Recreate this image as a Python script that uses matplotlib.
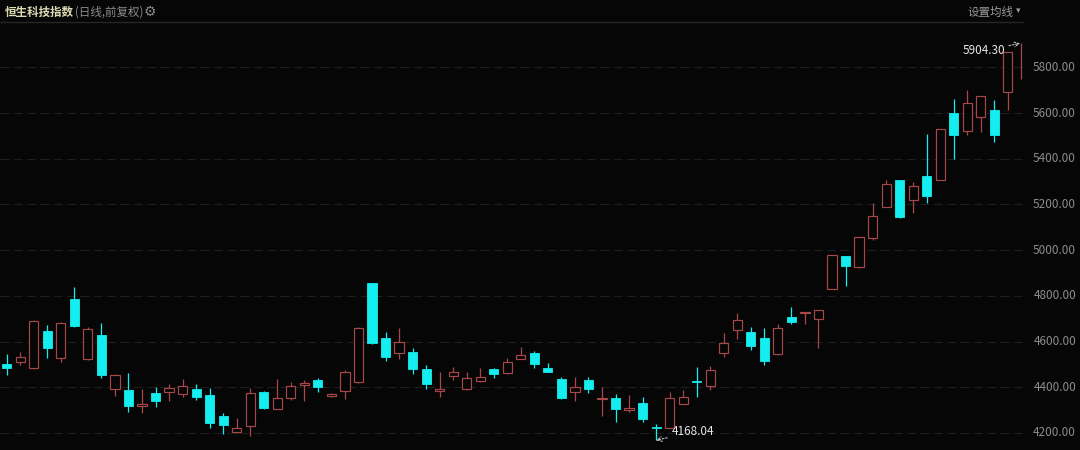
# 恒生科技指数 daily candles, dark theme

import matplotlib
matplotlib.use('Agg')
import matplotlib.pyplot as plt
import matplotlib.transforms as mtransforms
import numpy as np

plt.rcParams['font.family'] = ['Noto Sans CJK SC', 'DejaVu Sans']

opens = [4502, 4511, 4484, 4646, 4528, 4786, 4524, 4629, 4393, 4388,
         4318, 4375, 4379, 4371, 4393, 4366, 4274, 4204, 4231, 4379,
         4305, 4353, 4410, 4432, 4362, 4384, 4423, 4856, 4616, 4550,
         4554, 4480, 4384, 4449, 4393, 4428, 4480, 4462, 4524, 4550,
         4484, 4436, 4379, 4432, 4349, 4353, 4301, 4331, 4226, 4222,
         4327, 4428, 4406, 4550, 4651, 4642, 4616, 4546, 4707, 4725,
         4699, 4830, 4974, 4926, 5053, 5189, 5307, 5219, 5324, 5307,
         5600, 5521, 5583, 5613, 5692, 5749]
highs = [4546, 4554, 4695, 4672, 4685, 4839, 4664, 4681, 4456, 4462,
         4393, 4401, 4414, 4436, 4414, 4397, 4288, 4266, 4397, 4382,
         4436, 4423, 4432, 4441, 4375, 4476, 4662, 4858, 4642, 4659,
         4572, 4497, 4467, 4489, 4467, 4484, 4483, 4528, 4576, 4559,
         4506, 4445, 4445, 4445, 4401, 4371, 4366, 4358, 4239, 4379,
         4388, 4489, 4493, 4638, 4725, 4664, 4659, 4677, 4751, 4729,
         4738, 4979, 4976, 5058, 5206, 5307, 5309, 5298, 5508, 5530,
         5661, 5701, 5674, 5657, 5866, 5904.30]
lows = [4454, 4497, 4480, 4528, 4511, 4665, 4520, 4441, 4362, 4292,
        4288, 4314, 4340, 4358, 4344, 4222, 4196, 4200, 4187, 4305,
        4303, 4344, 4340, 4379, 4358, 4349, 4420, 4590, 4515, 4524,
        4458, 4393, 4358, 4432, 4390, 4425, 4441, 4458, 4522, 4484,
        4465, 4349, 4340, 4375, 4274, 4248, 4292, 4248, 4168.04, 4220,
        4325, 4358, 4388, 4533, 4611, 4563, 4497, 4541, 4677, 4677,
        4572, 4828, 4843, 4924, 5044, 5187, 5141, 5162, 5206, 5305,
        5399, 5504, 5517, 5473, 5613, 5749]
closes = [4484, 4532, 4690, 4572, 4681, 4668, 4655, 4454, 4454, 4318,
          4327, 4340, 4397, 4406, 4358, 4244, 4235, 4222, 4375, 4309,
          4353, 4406, 4419, 4401, 4371, 4467, 4659, 4594, 4533, 4598,
          4480, 4414, 4393, 4467, 4441, 4445, 4458, 4511, 4541, 4502,
          4467, 4353, 4401, 4393, 4353, 4305, 4309, 4261, 4222, 4353,
          4358, 4423, 4476, 4594, 4694, 4581, 4515, 4659, 4686, 4729,
          4738, 4979, 4931, 5058, 5149, 5289, 5145, 5281, 5237, 5530,
          5504, 5644, 5674, 5504, 5866, 5904.30]
yticks = [4200, 4400, 4600, 4800, 5000, 5200, 5400, 5600, 5800]

BG = '#060606'
UP = '#a8474a'
DOWN = '#14eef0'

o = np.array(opens, dtype=float)
h = np.array(highs, dtype=float)
l = np.array(lows, dtype=float)
c = np.array(closes, dtype=float)
n = len(o)
x = np.arange(n)
up = c >= o
top = np.maximum(o, c)
bot = np.minimum(o, c)

fig = plt.figure(figsize=(10.8, 4.5), dpi=100, facecolor=BG)
ax = fig.add_axes([0, 0, 1, 1])
ax.set_facecolor(BG)
ax.set_xlim(-0.495, 79.33)
ax.set_ylim(4125.6, 6094.4)
ax.axis('off')

xend = n - 1 + 0.12
# grid
ax.hlines(yticks, -0.495, xend, colors='#1e1e1e', linewidth=0.8,
          linestyles=(0, (8, 4)), zorder=0)
ax.hlines([6000], -0.495, xend, colors='#262626', linewidth=1.0, zorder=0)

trans = mtransforms.blended_transform_factory(ax.transAxes, ax.transData)
for t in yticks:
    ax.text(1076 / 1080, t, '%.2f' % t, transform=trans, ha='right',
            va='center', color='#8c8c8c', fontsize=8.5)

w = 0.68
body = np.maximum(top - bot, 1.5)
last = n - 1
for i in range(last):
    col = UP if up[i] else DOWN
    ax.vlines(x[i], top[i], h[i], colors=col, linewidth=0.9, zorder=2)
    ax.vlines(x[i], l[i], bot[i], colors=col, linewidth=0.9, zorder=2)
    if up[i]:
        ax.bar(x[i], body[i], bottom=bot[i], width=w, facecolor=BG,
               edgecolor=UP, linewidth=0.85, zorder=3)
    else:
        ax.bar(x[i], body[i], bottom=bot[i], width=w, facecolor=DOWN,
               edgecolor=DOWN, linewidth=0.6, zorder=3)
# latest (still forming) candle drawn as a single line
ax.vlines(x[last], l[last], h[last], colors=UP, linewidth=0.9, zorder=2)

# extreme labels
imax = int(np.argmax(h))
imin = int(np.argmin(l))
ax.annotate('%.2f' % h[imax], xy=(x[imax] - 0.1, h[imax]),
            xytext=(-11, -5), textcoords='offset points', ha='right',
            va='center', color='#e6e6e6', fontsize=8.5,
            arrowprops=dict(arrowstyle='->', color='#cfcfcf', lw=0.7,
                            linestyle=(0, (2, 1.5)), shrinkA=1, shrinkB=0))
ax.annotate('%.2f' % l[imin], xy=(x[imin], l[imin]),
            xytext=(11, 6), textcoords='offset points', ha='left',
            va='center', color='#e6e6e6', fontsize=8.5,
            arrowprops=dict(arrowstyle='->', color='#cfcfcf', lw=0.7,
                            linestyle=(0, (2, 1.5)), shrinkA=1, shrinkB=0))

# header
fig.text(5 / 1080, 1 - 12 / 450, '恒生科技指数', color='#dcdcb4', fontsize=8.3,
         fontweight='bold', va='center', ha='left')
fig.text(75 / 1080, 1 - 12 / 450, '(日线,前复权)', color='#8c8c8c',
         fontsize=8.3, va='center', ha='left')
fig.text(144 / 1080, 1 - 12 / 450, '⚙', color='#8c8c8c', fontsize=10,
         va='center', ha='left', family=['DejaVu Sans'])
fig.text(1013 / 1080, 1 - 12 / 450, '设置均线', color='#9a9a9a', fontsize=8.3,
         va='center', ha='right')
fig.text(1016 / 1080, 1 - 11 / 450, '▾', color='#9a9a9a', fontsize=6.5,
         va='center', ha='left', family=['DejaVu Sans'])

fig.savefig('out.png', dpi=100, facecolor=BG)
